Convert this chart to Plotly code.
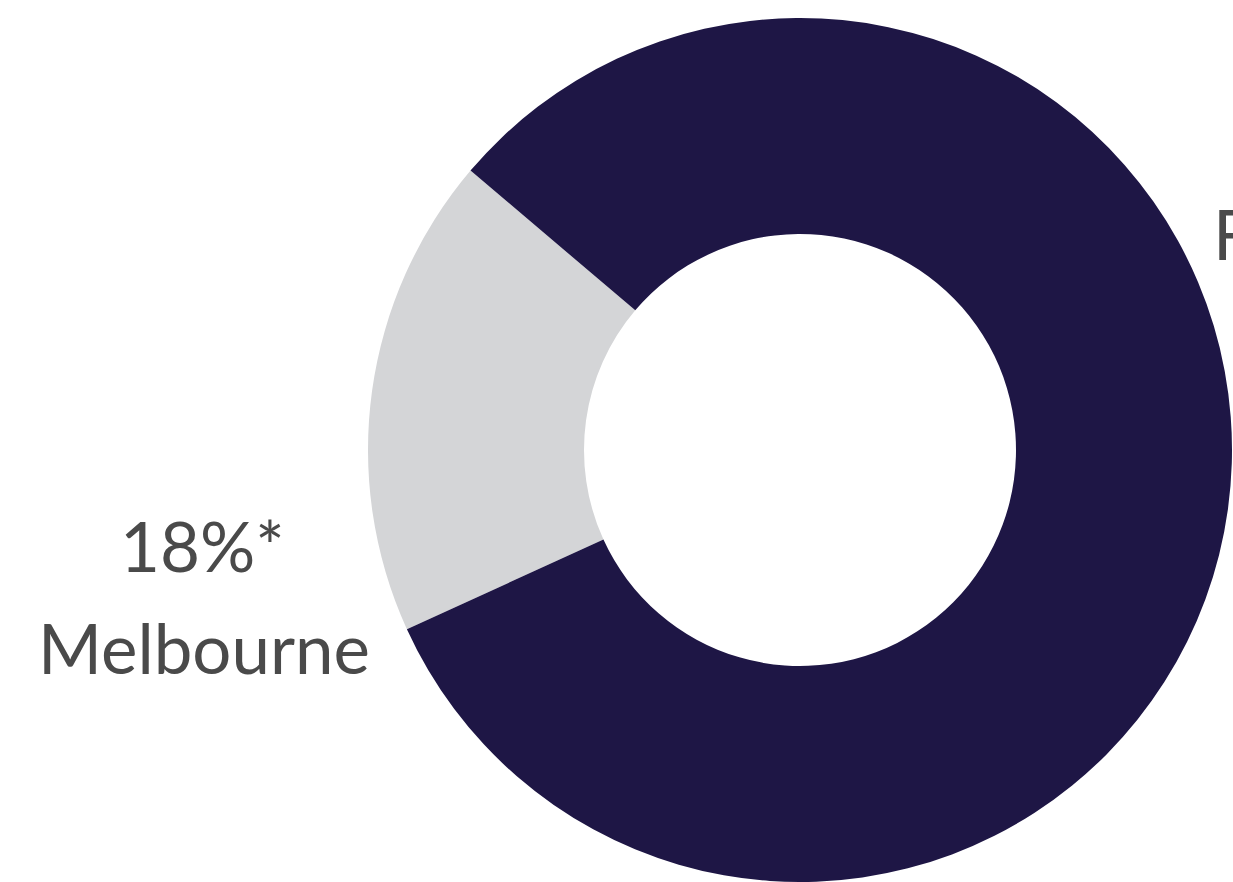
import plotly.graph_objects as go

labels = ["Melbourne", "Other"]
values = [18, 82]
colors = ["#d4d5d7", "#1e1645"]

W, H = 1233, 882
cx, r = 800, 432
cy_top = 450  # center from top (constrained by figure height)

fig = go.Figure(go.Pie(
    labels=labels, values=values, hole=0.5, sort=False,
    direction="clockwise", rotation=245.5,
    marker=dict(colors=colors, line=dict(width=0)),
    textinfo="none", hoverinfo="label+percent", showlegend=False,
    domain=dict(x=[(cx - r) / W, (cx + r) / W], y=[1 - (cy_top + r) / H, 1 - (cy_top - r) / H]),
))

font = dict(family="Lato, sans-serif", size=69, color="#4a4a4a")
fig.add_annotation(text="18%*", x=202 / W, y=1 - 545 / H, xref="paper", yref="paper",
                   xanchor="center", yanchor="middle", showarrow=False, font=font)
fig.add_annotation(text="Melbourne", x=204 / W, y=1 - 647 / H, xref="paper", yref="paper",
                   xanchor="center", yanchor="middle", showarrow=False, font=font)
fig.add_annotation(text="Franchise", x=1211 / W, y=1 - 233 / H, xref="paper", yref="paper",
                   xanchor="left", yanchor="middle", showarrow=False, font=font)

fig.update_layout(width=W, height=H, margin=dict(l=0, r=0, t=0, b=0),
                  paper_bgcolor="white", plot_bgcolor="white")
fig.write_html("out.html")
